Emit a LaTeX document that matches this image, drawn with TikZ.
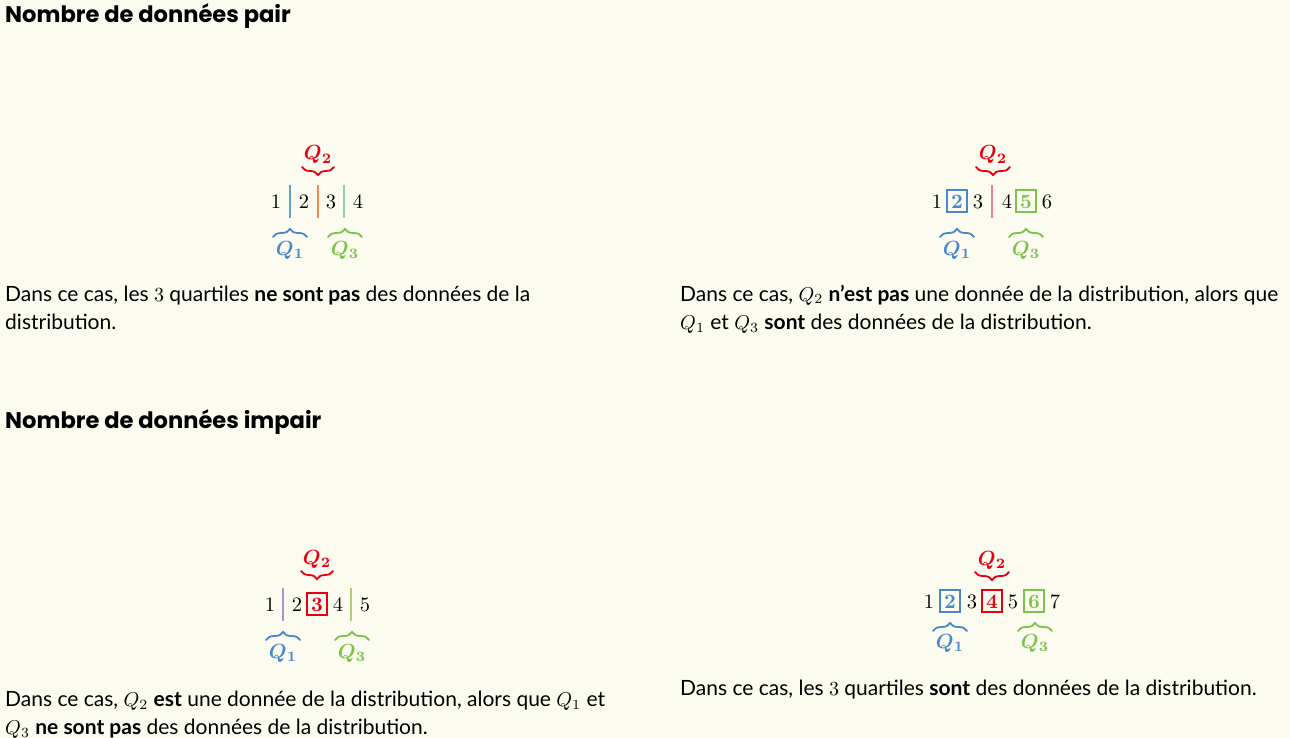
\documentclass[tikz,border=0pt]{standalone}
\usepackage[no-math]{fontspec}
\usepackage{amsmath}
\usepackage{bm}
\usepackage{graphicx}
\setmainfont{Lato}
\newfontfamily\headfont{Poppins}
\usetikzlibrary{decorations.pathreplacing}
\definecolor{bg}{HTML}{FBFBF0}
\definecolor{qred}{HTML}{E60012}
\definecolor{qblue}{HTML}{4A88CC}
\definecolor{qgreen}{HTML}{7DC24A}
\definecolor{lblue}{HTML}{5AA0DC}
\definecolor{lorange}{HTML}{F08A4B}
\definecolor{lteal}{HTML}{8FD0A8}
\definecolor{lpink}{HTML}{E8809A}
\definecolor{llilac}{HTML}{A996CF}
\definecolor{lgreen}{HTML}{A8CF7A}
\newcommand{\zz}[1]{\mbox{\fontsize{10}{12}\selectfont\scalebox{2.05}{$#1$}}}
\newcommand{\mq}[1]{\mbox{\fontsize{10}{12}\selectfont\scalebox{2}{$#1$}}}
\begin{document}
\begin{tikzpicture}[x=1pt,y=-1pt,
 head/.style={anchor=base west, inner sep=0pt, font=\fontsize{22.6}{26}\selectfont\headfont\bfseries},
 body/.style={anchor=base west, inner sep=0pt, font=\fontsize{21}{28}\selectfont},
 num/.style={anchor=base, inner sep=0pt},
 qlab/.style={anchor=base, inner sep=0pt, text=#1},
 qbox/.style={draw=#1, line width=2pt, minimum width=20pt, minimum height=22pt, inner sep=0pt},
 brc/.style={draw=#1, line width=1.8pt, line cap=round, decorate, decoration={brace, amplitude=8pt}},
 sepline/.style={draw=#1, line width=1.6pt},
]
\fill[bg] (0,0) rectangle (1290,738);
\useasboundingbox (0,0) rectangle (1290,738);

% headings
\node[head] (h1) at (5,23) {Nombre de données pair};
\node[head] (h2) at (5,428) {Nombre de données impair};

% ---------- panel 1 ----------
\node[num] (a1) at (276,208) {\zz{1}};
\node[num] (a2) at (304,208) {\zz{2}};
\node[num] (a3) at (331,208) {\zz{3}};
\node[num] (a4) at (358,208) {\zz{4}};
\draw[sepline=lblue] (290,185) -- (290,218);
\draw[sepline=lorange] (318,185) -- (318,218);
\draw[sepline=lteal] (344,185) -- (344,218);
\node[qlab=qred] (aq2) at (318,160) {\zz{\bm{Q_2}}};
\draw[brc=qred] (334,167) -- (302,167);
\draw[brc=qblue] (273,237) -- (307,237);
\node[qlab=qblue] (aq1) at (290,255) {\zz{\bm{Q_1}}};
\draw[brc=qgreen] (328,237) -- (362,237);
\node[qlab=qgreen] (aq3) at (345,255) {\zz{\bm{Q_3}}};

\node[body] (t1a) at (5,301) {Dans ce cas, les \mq{3} quartiles \textbf{ne sont pas} des données de la};
\node[body] (t1b) at (5,329) {distribution.};

% ---------- panel 2 ----------
\node[num] (b1) at (937,208) {\zz{1}};
\node[num, text=qblue] (b2) at (957,208) {\zz{\mathbf{2}}};
\node[qbox=qblue] (b2b) at (b2.center) {};
\node[num] (b3) at (978,208) {\zz{3}};
\draw[sepline=lpink] (992,185) -- (992,218);
\node[num] (b4) at (1007,208) {\zz{4}};
\node[num, text=qgreen] (b5) at (1026,208) {\zz{\mathbf{5}}};
\node[qbox=qgreen] (b5b) at (b5.center) {};
\node[num] (b6) at (1047,208) {\zz{6}};
\node[qlab=qred] (bq2) at (993,160) {\zz{\bm{Q_2}}};
\draw[brc=qred] (1010,167) -- (976,167);
\draw[brc=qblue] (940,237) -- (974,237);
\node[qlab=qblue] (bq1) at (957,255) {\zz{\bm{Q_1}}};
\draw[brc=qgreen] (1009,237) -- (1043,237);
\node[qlab=qgreen] (bq3) at (1026,255) {\zz{\bm{Q_3}}};

\node[body] (t2a) at (680,301) {Dans ce cas, \mq{Q_2} \textbf{n’est pas} une donnée de la distribution, alors que};
\node[body] (t2b) at (680,329) {\mq{Q_1} et \mq{Q_3} \textbf{sont} des données de la distribution.};

% ---------- panel 3 ----------
\node[num] (c1) at (270,611) {\zz{1}};
\draw[sepline=llilac] (283,588) -- (283,621);
\node[num] (c2) at (297,611) {\zz{2}};
\node[num, text=qred] (c3) at (317,611) {\zz{\mathbf{3}}};
\node[qbox=qred] (c3b) at (c3.center) {};
\node[num] (c4) at (338,611) {\zz{4}};
\draw[sepline=lgreen] (351,588) -- (351,621);
\node[num] (c5) at (365,611) {\zz{5}};
\node[qlab=qred] (cq2) at (317,564) {\zz{\bm{Q_2}}};
\draw[brc=qred] (333,571) -- (301,571);
\draw[brc=qblue] (266,640) -- (300,640);
\node[qlab=qblue] (cq1) at (283,658) {\zz{\bm{Q_1}}};
\draw[brc=qgreen] (335,640) -- (369,640);
\node[qlab=qgreen] (cq3) at (352,658) {\zz{\bm{Q_3}}};

\node[body] (t3a) at (5,706) {Dans ce cas, \mq{Q_2} \textbf{est} une donnée de la distribution, alors que \mq{Q_1} et};
\node[body] (t3b) at (5,734) {\mq{Q_3} \textbf{ne sont pas} des données de la distribution.};

% ---------- panel 4 ----------
\node[num] (d1) at (929,608) {\zz{1}};
\node[num, text=qblue] (d2) at (950,608) {\zz{\mathbf{2}}};
\node[qbox=qblue] (d2b) at (d2.center) {};
\node[num] (d3) at (972,608) {\zz{3}};
\node[num, text=qred] (d4) at (992,608) {\zz{\mathbf{4}}};
\node[qbox=qred] (d4b) at (d4.center) {};
\node[num] (d5) at (1013,608) {\zz{5}};
\node[num, text=qgreen] (d6) at (1034,608) {\zz{\mathbf{6}}};
\node[qbox=qgreen] (d6b) at (d6.center) {};
\node[num] (d7) at (1055,608) {\zz{7}};
\node[qlab=qred] (dq2) at (992,565) {\zz{\bm{Q_2}}};
\draw[brc=qred] (1009,572) -- (975,572);
\draw[brc=qblue] (933,631) -- (967,631);
\node[qlab=qblue] (dq1) at (950,648) {\zz{\bm{Q_1}}};
\draw[brc=qgreen] (1018,631) -- (1052,631);
\node[qlab=qgreen] (dq3) at (1035,648) {\zz{\bm{Q_3}}};

\node[body] (t4a) at (680,695) {Dans ce cas, les \mq{3} quartiles \textbf{sont} des données de la distribution.};
\end{tikzpicture}
\end{document}
